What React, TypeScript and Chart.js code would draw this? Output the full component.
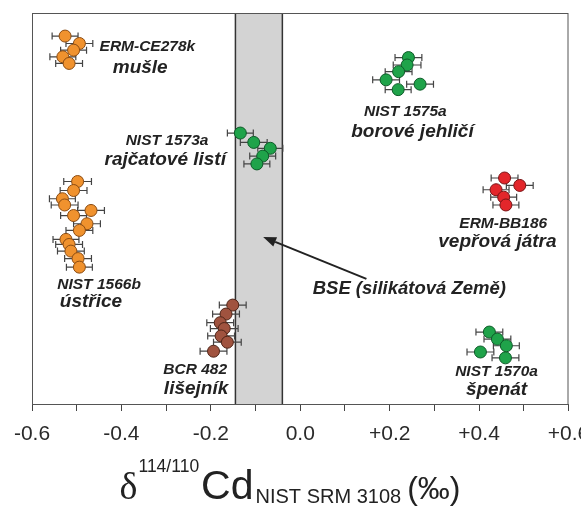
import { useEffect, useRef } from 'react';
import { Chart, registerables } from 'chart.js';

Chart.register(...registerables);

// ---- axis ----
const xMin = -0.6;
const xMax = 0.6;
const xStep = 0.1;
const yMin = 0;
const yMax = 100;

// BSE (bulk silicate Earth) band
const bseRange = [-0.145, -0.04];

// ---- data (δ114/110Cd, ‰) ; y = arbitrary vertical position ----
const ermCe278kX = [-0.526, -0.494, -0.507, -0.531, -0.517];
const ermCe278kY = [94.1, 92.2, 90.5, 88.8, 87.1];
const ermCe278kErr = [0.029, 0.03, 0.029, 0.029, 0.03];

const nist1575aX = [0.242, 0.239, 0.22, 0.192, 0.268, 0.219];
const nist1575aY = [88.6, 86.7, 85.0, 82.9, 81.8, 80.4];
const nist1575aErr = [0.03, 0.031, 0.03, 0.03, 0.03, 0.029];

const nist1573aX = [-0.134, -0.104, -0.067, -0.084, -0.097];
const nist1573aY = [69.3, 66.9, 65.4, 63.4, 61.4];
const nist1573aErr = [0.029, 0.03, 0.028, 0.029, 0.029];

const ermBb186X = [0.457, 0.491, 0.438, 0.455, 0.46];
const ermBb186Y = [57.8, 55.9, 54.8, 52.9, 50.9];
const ermBb186Err = [0.03, 0.03, 0.029, 0.029, 0.029];

const nist1566bX = [-0.498, -0.507, -0.532, -0.527, -0.468, -0.507, -0.477, -0.494, -0.524, -0.517, -0.513, -0.497, -0.494];
const nist1566bY = [56.9, 54.6, 52.5, 50.9, 49.5, 48.2, 46.1, 44.4, 42.1, 40.8, 39.1, 37.2, 35.0];
const nist1566bErr = [0.031, 0.03, 0.029, 0.03, 0.03, 0.029, 0.03, 0.03, 0.029, 0.03, 0.03, 0.03, 0.029];

const bcr482X = [-0.151, -0.166, -0.179, -0.17, -0.177, -0.163, -0.194];
const bcr482Y = [25.3, 23.0, 20.8, 19.3, 17.4, 15.8, 13.5];
const bcr482Err = [0.03, 0.03, 0.03, 0.031, 0.03, 0.031, 0.03];

const nist1570aX = [0.423, 0.441, 0.461, 0.403, 0.459];
const nist1570aY = [18.4, 16.6, 14.9, 13.3, 11.8];
const nist1570aErr = [0.03, 0.03, 0.029, 0.03, 0.03];

// ---- labels ----
const sampleCodes = ['ERM-CE278k', 'NIST 1575a', 'NIST 1573a', 'ERM-BB186', 'NIST 1566b', 'BCR 482', 'NIST 1570a'];
const sampleNames = ['mušle', 'borové jehličí', 'rajčatové listí', 'vepřová játra', 'ústřice', 'lišejník', 'špenát'];
const bseLabel = 'BSE (silikátová Země)';

// label anchor positions in data coordinates (code line, name line)
const codePos = [
  [-0.342, 91.3], [0.235, 74.7], [-0.298, 67.3], [0.454, 46.0], [-0.45, 30.4], [-0.235, 8.7], [0.439, 8.2],
];
const namePos = [
  [-0.358, 85.9], [0.251, 69.6], [-0.302, 62.4], [0.441, 41.4], [-0.468, 26.1], [-0.233, 3.8], [0.439, 3.6],
];
const bsePos = [0.244, 29.4];
const arrowFrom = [0.148, 32.0];
const arrowTo = [-0.083, 42.7];

const ORANGE = { fill: '#F0922E', stroke: '#8a4b12' };
const GREEN = { fill: '#1FA34A', stroke: '#0d5a28' };
const RED = { fill: '#E3262B', stroke: '#7a1214' };
const BROWN = { fill: '#A0533F', stroke: '#4f2518' };

const SANS = "'Liberation Sans', Arial, Helvetica, sans-serif";
const SERIF = "'Liberation Serif', 'Times New Roman', serif";
const TEXT = '#222222';

function pts(xs: number[], ys: number[]) {
  return xs.map((x, i) => ({ x, y: ys[i] }));
}

const decorPlugin = {
  id: 'decor',
  beforeDatasetsDraw(chart: any) {
    const { ctx, chartArea } = chart;
    const xs = chart.scales.x;
    const ys = chart.scales.y;
    ctx.save();
    // band
    const b1 = xs.getPixelForValue(bseRange[0]);
    const b2 = xs.getPixelForValue(bseRange[1]);
    ctx.fillStyle = '#d3d3d3';
    ctx.fillRect(b1, chartArea.top, b2 - b1, chartArea.bottom - chartArea.top);
    ctx.strokeStyle = '#333';
    ctx.lineWidth = 1.5;
    ctx.beginPath();
    ctx.moveTo(b1, chartArea.top);
    ctx.lineTo(b1, chartArea.bottom);
    ctx.moveTo(b2, chartArea.top);
    ctx.lineTo(b2, chartArea.bottom);
    ctx.stroke();
    // frame
    ctx.strokeStyle = '#555';
    ctx.lineWidth = 1;
    ctx.strokeRect(chartArea.left + 0.5, chartArea.top + 0.5, chartArea.right - chartArea.left - 1, chartArea.bottom - chartArea.top);
    // error bars
    ctx.strokeStyle = '#444';
    ctx.lineWidth = 1.2;
    chart.data.datasets.forEach((ds: any) => {
      ds.data.forEach((p: any, j: number) => {
        const y = ys.getPixelForValue(p.y);
        const x1 = xs.getPixelForValue(p.x - ds.errs[j]);
        const x2 = xs.getPixelForValue(p.x + ds.errs[j]);
        ctx.beginPath();
        ctx.moveTo(x1, y);
        ctx.lineTo(x2, y);
        ctx.moveTo(x1, y - 3.5);
        ctx.lineTo(x1, y + 3.5);
        ctx.moveTo(x2, y - 3.5);
        ctx.lineTo(x2, y + 3.5);
        ctx.stroke();
      });
    });
    ctx.restore();
  },
  afterDatasetsDraw(chart: any) {
    const { ctx } = chart;
    const xs = chart.scales.x;
    const ys = chart.scales.y;
    ctx.save();
    ctx.fillStyle = TEXT;
    ctx.textAlign = 'center';
    ctx.textBaseline = 'middle';
    sampleCodes.forEach((t, i) => {
      ctx.font = `italic bold 15.5px ${SANS}`;
      ctx.fillText(t, xs.getPixelForValue(codePos[i][0]), ys.getPixelForValue(codePos[i][1]));
      ctx.font = `italic bold 19px ${SANS}`;
      ctx.fillText(sampleNames[i], xs.getPixelForValue(namePos[i][0]), ys.getPixelForValue(namePos[i][1]));
    });
    ctx.font = `italic bold 18.5px ${SANS}`;
    ctx.fillText(bseLabel, xs.getPixelForValue(bsePos[0]), ys.getPixelForValue(bsePos[1]));

    // arrow
    const ax1 = xs.getPixelForValue(arrowFrom[0]);
    const ay1 = ys.getPixelForValue(arrowFrom[1]);
    const ax2 = xs.getPixelForValue(arrowTo[0]);
    const ay2 = ys.getPixelForValue(arrowTo[1]);
    const ang = Math.atan2(ay2 - ay1, ax2 - ax1);
    const hl = 13;
    const hw = 5;
    const bx = ax2 - hl * Math.cos(ang);
    const by = ay2 - hl * Math.sin(ang);
    ctx.strokeStyle = TEXT;
    ctx.lineWidth = 2;
    ctx.beginPath();
    ctx.moveTo(ax1, ay1);
    ctx.lineTo(bx, by);
    ctx.stroke();
    ctx.beginPath();
    ctx.moveTo(ax2, ay2);
    ctx.lineTo(bx + hw * Math.sin(ang), by - hw * Math.cos(ang));
    ctx.lineTo(bx - hw * Math.sin(ang), by + hw * Math.cos(ang));
    ctx.closePath();
    ctx.fill();

    // axis title: δ^{114/110}Cd_{NIST SRM 3108} (‰)
    const base = 499;
    const parts = [
      { t: 'δ', f: `38px ${SERIF}`, dy: 0, gap: 1 },
      { t: '114/110', f: `17.5px ${SANS}`, dy: -27, gap: 2 },
      { t: 'Cd', f: `41px ${SANS}`, dy: 0, gap: 2 },
      { t: 'NIST SRM 3108', f: `20px ${SANS}`, dy: 4, gap: 6 },
      { t: '(‰)', f: `32px ${SANS}`, dy: 0, gap: 0 },
    ];
    let total = 0;
    const widths = parts.map((p) => {
      ctx.font = p.f;
      const w = ctx.measureText(p.t).width;
      total += w + p.gap;
      return w;
    });
    let x = 290 - total / 2;
    ctx.textAlign = 'left';
    ctx.textBaseline = 'alphabetic';
    parts.forEach((p, i) => {
      ctx.font = p.f;
      ctx.fillText(p.t, x, base + p.dy);
      x += widths[i] + p.gap;
    });
    ctx.restore();
  },
};

function makeSet(label: string, xs: number[], ys: number[], errs: number[], c: { fill: string; stroke: string }) {
  return {
    label,
    data: pts(xs, ys),
    errs,
    backgroundColor: c.fill,
    borderColor: c.stroke,
    borderWidth: 1,
    pointRadius: 6,
    pointHoverRadius: 6,
  };
}

export default function App() {
  const ref = useRef<HTMLCanvasElement | null>(null);
  useEffect(() => {
    if (!ref.current) return;
    const chart = new Chart(ref.current, {
      type: 'scatter',
      data: {
        datasets: [
          makeSet(sampleCodes[0], ermCe278kX, ermCe278kY, ermCe278kErr, ORANGE),
          makeSet(sampleCodes[1], nist1575aX, nist1575aY, nist1575aErr, GREEN),
          makeSet(sampleCodes[2], nist1573aX, nist1573aY, nist1573aErr, GREEN),
          makeSet(sampleCodes[3], ermBb186X, ermBb186Y, ermBb186Err, RED),
          makeSet(sampleCodes[4], nist1566bX, nist1566bY, nist1566bErr, ORANGE),
          makeSet(sampleCodes[5], bcr482X, bcr482Y, bcr482Err, BROWN),
          makeSet(sampleCodes[6], nist1570aX, nist1570aY, nist1570aErr, GREEN),
        ] as any,
      },
      options: {
        responsive: false,
        animation: false,
        events: [],
        layout: { padding: { left: 32, right: 12.5, top: 13, bottom: 0 } },
        plugins: { legend: { display: false }, tooltip: { enabled: false }, title: { display: false } },
        scales: {
          x: {
            type: 'linear',
            min: xMin,
            max: xMax,
            grid: { display: true, drawOnChartArea: false, drawTicks: true, tickLength: 7, color: '#444', lineWidth: 1 },
            border: { display: true, color: '#555', width: 1 },
            ticks: {
              stepSize: xStep,
              autoSkip: false,
              maxRotation: 0,
              padding: 11,
              color: '#2a2a2a',
              font: { family: SANS, size: 21 },
              callback: (v: any) => {
                const r = Math.round(Number(v) * 10);
                if (r % 2 !== 0) return '';
                if (r === 0) return '0.0';
                return (r > 0 ? '+' : '') + (r / 10).toFixed(1);
              },
            },
            afterFit: (scale: any) => {
              scale.height = 102;
              scale.paddingLeft = 0;
              scale.paddingRight = 0;
            },
          } as any,
          y: { type: 'linear', min: yMin, max: yMax, display: false },
        },
      },
      plugins: [decorPlugin],
    });
    return () => chart.destroy();
  }, []);
  return (
    <div style={{ position: 'fixed', left: 0, top: 0, width: 581, height: 506, background: '#fff' }}>
      <canvas ref={ref} width={581} height={506} style={{ display: 'block' }} />
    </div>
  );
}
